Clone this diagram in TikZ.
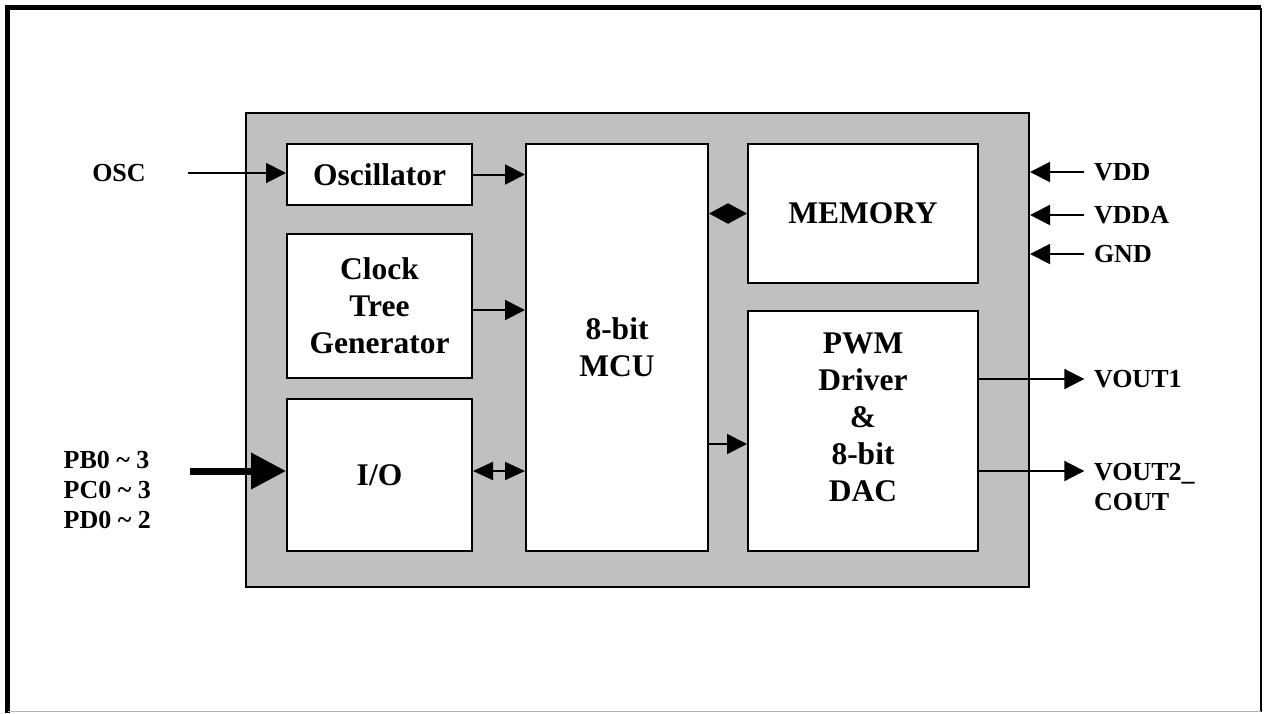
\documentclass[tikz,border=0pt]{standalone}
\usepackage{fontspec}
\setmainfont{Liberation Serif}
\usetikzlibrary{arrows.meta}
\definecolor{chipgray}{RGB}{192,192,192}

\begin{document}
\begin{tikzpicture}[x = 1pt, y = -1pt, line width = 2pt,
	block/.style = {rectangle, draw = black, fill = white, align = center,
	font = \fontsize{31.5}{37}\selectfont\bfseries},
	pin/.style = {align = left, inner sep = 8.7pt, font = \fontsize{26}{30}\selectfont\bfseries},
	sig/.style = {-{Triangle[length = 20pt, width = 20pt]}}]

	\useasboundingbox (0, 0) rectangle (1264, 713);

	% frame
	\draw[line width = 4.5pt] (1261, 7.5) -- (7.5, 7.5) -- (7.5, 713);
	\draw (1261, 7.5) -- (1261, 711.5);
	\draw[gray!60, line width = 1.5pt] (7.5, 711.5) -- (1261, 711.5);

		\node (chip)   at (637.5, 350) [rectangle, draw = black, fill = chipgray,
			minimum width = 783pt, minimum height = 474pt] {};

		\node (oscil)  at (379.5, 174.5) [block, minimum width = 185pt, minimum height = 61pt]  {Oscillator};
		\node (clk)    at (379.5, 306)   [block, minimum width = 185pt, minimum height = 144pt] {Clock\\Tree\\Generator};
		\node (io)     at (379.5, 475)   [block, minimum width = 185pt, minimum height = 152pt] {I/O};
		\node (mcu)    at (617,   347.5) [block, minimum width = 182pt, minimum height = 407pt] {8-bit\\MCU};
		\node (mem)    at (863,   213.5) [block, minimum width = 230pt, minimum height = 139pt] {MEMORY};
		\node (pwm)    at (863,   431)   [block, minimum width = 230pt, minimum height = 240pt] {};
		\node (pwmtxt) at (863,   417)   [align = center, font = \fontsize{31.5}{37}\selectfont\bfseries]
			{PWM\\Driver\\\&\\8-bit\\DAC};

		\node (osc)   at (119,    173) [pin] {OSC};
		\node (pb)    at (54,     490) [pin, anchor = west] {PB0 \textasciitilde{} 3\\PC0 \textasciitilde{} 3\\PD0 \textasciitilde{} 2};
		\node (vdd)   at (1084.3, 172) [pin, anchor = west] {VDD};
		\node (vdda)  at (1084.3, 215) [pin, anchor = west] {VDDA};
		\node (gnd)   at (1084.3, 254) [pin, anchor = west] {GND};
		\node (vout1) at (1084.3, 379) [pin, anchor = west] {VOUT1};
		\node (vout2) at (1084.3, 487) [pin, anchor = west] {VOUT2\_\\COUT};

		\coordinate (clkrow) at (0, 310);
		\coordinate (dacrow) at (0, 444);
		\coordinate (iorow)  at (0, 471);

	    \foreach \from in {vdd, vdda, gnd}
	    	\draw[sig] (\from.west) -- (\from.west -| chip.east);

	    \draw[sig, shorten <= 33pt] (osc.east) -- (osc.east -| oscil.west);
	    \draw[sig] (oscil.east) -- (oscil.east -| mcu.west);
	    \draw[sig] (clk.east |- clkrow) -- (mcu.west |- clkrow);
	    \draw[sig] (mcu.east |- dacrow) -- (pwm.west |- dacrow);
	    \draw[sig] (pwm.east |- vout1.west) -- (vout1.west);
	    \draw[sig] (pwm.east |- iorow) -- (vout2.west |- iorow);

	    \draw[{Triangle[length = 20pt, width = 18pt]}-{Triangle[length = 20pt, width = 18pt]}]
	    	(io.east |- iorow) -- (mcu.west |- iorow);
	    \draw[{Triangle[length = 19pt, width = 20pt]}-{Triangle[length = 19pt, width = 20pt]}]
	    	(mcu.east |- mem) -- (mem.west);

	    \draw[line width = 7pt, -{Triangle[length = 35pt, width = 35pt]}, shorten <= 29pt]
	    	(pb.east |- iorow) -- (io.west |- iorow);

\end{tikzpicture}
\end{document}
